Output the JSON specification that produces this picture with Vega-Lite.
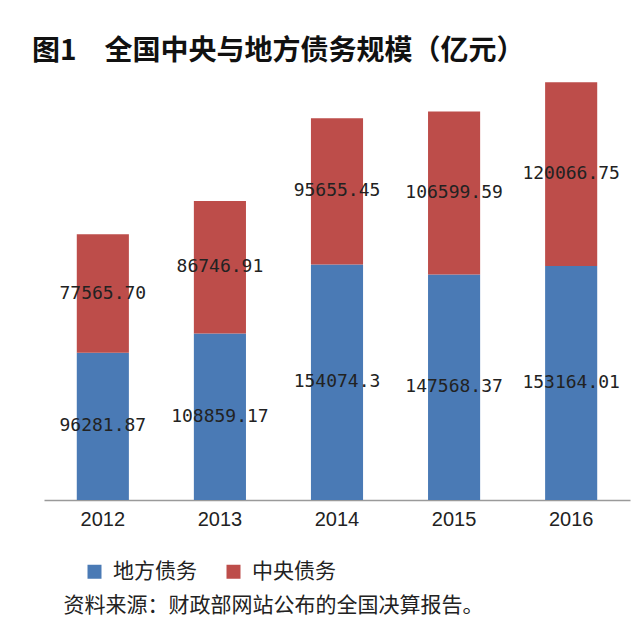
{
  "$schema": "https://vega.github.io/schema/vega-lite/v6.json",
  "autosize": {"type": "none"},
  "width": 586,
  "height": 428,
  "padding": {"left": 44, "top": 72, "right": 10, "bottom": 129},
  "background": "white",
  "config": {"view": {"stroke": null}},
  "title": {
    "text": "图1　全国中央与地方债务规模（亿元）",
    "anchor": "start",
    "frame": "group",
    "dx": -12,
    "offset": 6,
    "font": "Noto Sans CJK SC",
    "fontSize": 28,
    "fontWeight": "bold",
    "color": "#111111"
  },
  "data": {
    "values": [
      {"year": "2012", "series": "地方债务", "value": 96281.87, "label": "96281.87"},
      {"year": "2012", "series": "中央债务", "value": 77565.70, "label": "77565.70"},
      {"year": "2013", "series": "地方债务", "value": 108859.17, "label": "108859.17"},
      {"year": "2013", "series": "中央债务", "value": 86746.91, "label": "86746.91"},
      {"year": "2014", "series": "地方债务", "value": 154074.3, "label": "154074.3"},
      {"year": "2014", "series": "中央债务", "value": 95655.45, "label": "95655.45"},
      {"year": "2015", "series": "地方债务", "value": 147568.37, "label": "147568.37"},
      {"year": "2015", "series": "中央债务", "value": 106599.59, "label": "106599.59"},
      {"year": "2016", "series": "地方债务", "value": 153164.01, "label": "153164.01"},
      {"year": "2016", "series": "中央债务", "value": 120066.75, "label": "120066.75"}
    ]
  },
  "transform": [
    {"stack": "value", "groupby": ["year"], "sort": [{"field": "series", "order": "descending"}], "as": ["v0", "v1"]},
    {"calculate": "(datum.v0 + datum.v1) / 2", "as": "vmid"}
  ],
  "encoding": {
    "x": {
      "field": "year",
      "type": "ordinal",
      "scale": {"paddingInner": 0.555, "paddingOuter": 0.28},
      "axis": {
        "labelAngle": 0,
        "ticks": false,
        "domainColor": "#9a9a9a",
        "domainWidth": 1.5,
        "labelFont": "Liberation Sans",
        "labelFontSize": 20,
        "labelColor": "#222222",
        "labelPadding": 9,
        "title": "资料来源：财政部网站公布的全国决算报告。",
        "titleX": 19,
        "titleY": 105,
        "titleAlign": "left",
        "titleAnchor": "start",
        "titleBaseline": "middle",
        "titleFont": "Noto Sans CJK SC",
        "titleFontSize": 21,
        "titleFontWeight": "normal",
        "titleColor": "#222222"
      }
    }
  },
  "layer": [
    {
      "mark": {"type": "bar"},
      "encoding": {
        "y": {"field": "v0", "type": "quantitative", "scale": {"domain": [0, 280000]}, "axis": null},
        "y2": {"field": "v1"},
        "color": {
          "field": "series",
          "type": "nominal",
          "scale": {"domain": ["地方债务", "中央债务"], "range": ["#4A7AB5", "#BD4D4A"]},
          "legend": {
            "title": null,
            "orient": "none",
            "legendX": 40,
            "legendY": 489,
            "direction": "horizontal",
            "symbolType": "square",
            "symbolSize": 196,
            "symbolStrokeWidth": 0,
            "symbolOpacity": 1,
            "labelFont": "Noto Sans CJK SC",
            "labelFontSize": 21,
            "labelColor": "#222222",
            "labelOffset": 8,
            "columnPadding": 26
          }
        }
      }
    },
    {
      "mark": {"type": "text", "font": "DejaVu Sans Mono", "fontSize": 18, "color": "#222222", "baseline": "middle"},
      "encoding": {
        "y": {"field": "vmid", "type": "quantitative"},
        "text": {"field": "label"}
      }
    }
  ]
}
